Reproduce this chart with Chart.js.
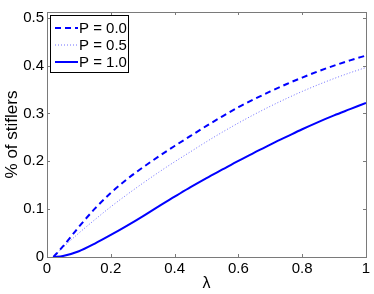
<!DOCTYPE html>
<html><head><meta charset="utf-8">
<script src="https://cdn.jsdelivr.net/npm/chart.js@4/dist/chart.umd.min.js"></script>
<style>html,body{margin:0;padding:0;background:#fff}</style>
</head><body><canvas id="c" width="374" height="294"></canvas>
<script>
const lambda = [0.02,0.05,0.1,0.15,0.2,0.25,0.3,0.35,0.4,0.45,0.5,0.55,0.6,0.65,0.7,0.75,0.8,0.85,0.9,0.95,1.0];
const p00 = [0,0.022,0.063,0.101,0.134,0.162,0.187,0.210,0.232,0.253,0.274,0.294,0.313,0.330,0.346,0.361,0.375,0.388,0.400,0.411,0.421];
const p05 = [0,0.020,0.050,0.078,0.105,0.130,0.154,0.177,0.199,0.220,0.241,0.261,0.280,0.298,0.315,0.331,0.346,0.360,0.373,0.385,0.396];
const p10 = [0,0.002,0.012,0.028,0.046,0.065,0.085,0.106,0.126,0.146,0.165,0.183,0.201,0.218,0.235,0.251,0.267,0.282,0.296,0.309,0.322];
const seriesLabels = ['P = 0.0','P = 0.5','P = 1.0'];
const xTicks = [0,0.2,0.4,0.6,0.8,1];
const yTicks = [0,0.1,0.2,0.3,0.4,0.5];
const xTitle = 'λ';
const yTitle = '% of stiflers';

const FONT = '"Liberation Sans", Arial, Helvetica, sans-serif';
const pts = ys => lambda.map((x,i)=>({x:x,y:ys[i]}));
const fmt = v => String(Math.round(v*10)/10);

const boxPlugin = {
  id:'box',
  afterDraw(chart){
    const ctx = chart.ctx, a = chart.chartArea;
    const xs = chart.scales.x, ys = chart.scales.y;
    ctx.save();
    ctx.strokeStyle = '#7a7a7a';
    ctx.lineWidth = 1;
    ctx.setLineDash([]);
    ctx.strokeRect(Math.round(a.left)+0.5, Math.round(a.top)+0.5, Math.round(a.right-a.left), Math.round(a.bottom-a.top));
    const L = 3;
    ctx.beginPath();
    xTicks.forEach(v=>{
      const px = Math.round(xs.getPixelForValue(v))+0.5;
      ctx.moveTo(px, a.bottom); ctx.lineTo(px, a.bottom-L);
      ctx.moveTo(px, a.top); ctx.lineTo(px, a.top+L);
    });
    yTicks.forEach(v=>{
      const py = Math.round(ys.getPixelForValue(v))+0.5;
      ctx.moveTo(a.left, py); ctx.lineTo(a.left+L, py);
      ctx.moveTo(a.right, py); ctx.lineTo(a.right-L, py);
    });
    ctx.stroke();
    // legend
    const x0 = Math.round(a.left)+3, y0 = Math.round(a.top)+3, w = 78, h = 57;
    ctx.fillStyle = '#fff';
    ctx.fillRect(x0, y0, w, h);
    ctx.strokeStyle = '#000';
    ctx.strokeRect(x0+0.5, y0+0.5, w, h);
    ctx.font = '15px ' + FONT;
    ctx.textBaseline = 'middle';
    ctx.textAlign = 'left';
    chart.data.datasets.forEach((ds,i)=>{
      const yy = y0 + 13 + i*17;
      ctx.strokeStyle = ds.borderColor;
      ctx.lineWidth = ds.borderWidth;
      ctx.setLineDash(ds.borderDash || []);
      ctx.beginPath(); ctx.moveTo(x0+5, yy); ctx.lineTo(x0+28, yy); ctx.stroke();
      ctx.setLineDash([]);
      ctx.fillStyle = '#000';
      ctx.fillText(ds.label, x0+29, yy+1);
    });
    ctx.restore();
  }
};

new Chart(document.getElementById('c'), {
  type:'line',
  data:{datasets:[
    {label:seriesLabels[0], data:pts(p00), borderColor:'#0000ff', borderWidth:2, borderDash:[6,4], pointRadius:0, fill:false, cubicInterpolationMode:'monotone'},
    {label:seriesLabels[1], data:pts(p05), borderColor:'#6e6eff', borderWidth:1, borderDash:[1,2], pointRadius:0, fill:false, cubicInterpolationMode:'monotone'},
    {label:seriesLabels[2], data:pts(p10), borderColor:'#0000ff', borderWidth:2, pointRadius:0, fill:false, cubicInterpolationMode:'monotone'}
  ]},
  options:{
    responsive:false, animation:false,
    layout:{padding:{left:0,right:8,top:8,bottom:0}},
    plugins:{legend:{display:false}, tooltip:{enabled:false}},
    scales:{
      x:{type:'linear', min:0, max:1,
        afterBuildTicks(s){ s.ticks = xTicks.map(v=>({value:v})); },
        afterFit(s){ s.height = 37; },
        grid:{display:false, drawTicks:false}, border:{display:false},
        ticks:{padding:3, color:'#000', font:{family:FONT, size:15}, callback:fmt, maxRotation:0},
        title:{display:true, text:xTitle, color:'#000', font:{family:FONT, size:16}, padding:{top:0,bottom:1}}
      },
      y:{type:'linear', min:0, max:0.512,
        afterBuildTicks(s){ s.ticks = yTicks.map(v=>({value:v})); },
        afterFit(s){ s.width = 47; },
        grid:{display:false, drawTicks:false}, border:{display:false},
        ticks:{padding:3, color:'#000', font:{family:FONT, size:15}, callback:fmt},
        title:{display:true, text:yTitle, color:'#000', font:{family:FONT, size:17}, padding:{top:2,bottom:0}}
      }
    }
  },
  plugins:[boxPlugin]
});
</script>
</body></html>
